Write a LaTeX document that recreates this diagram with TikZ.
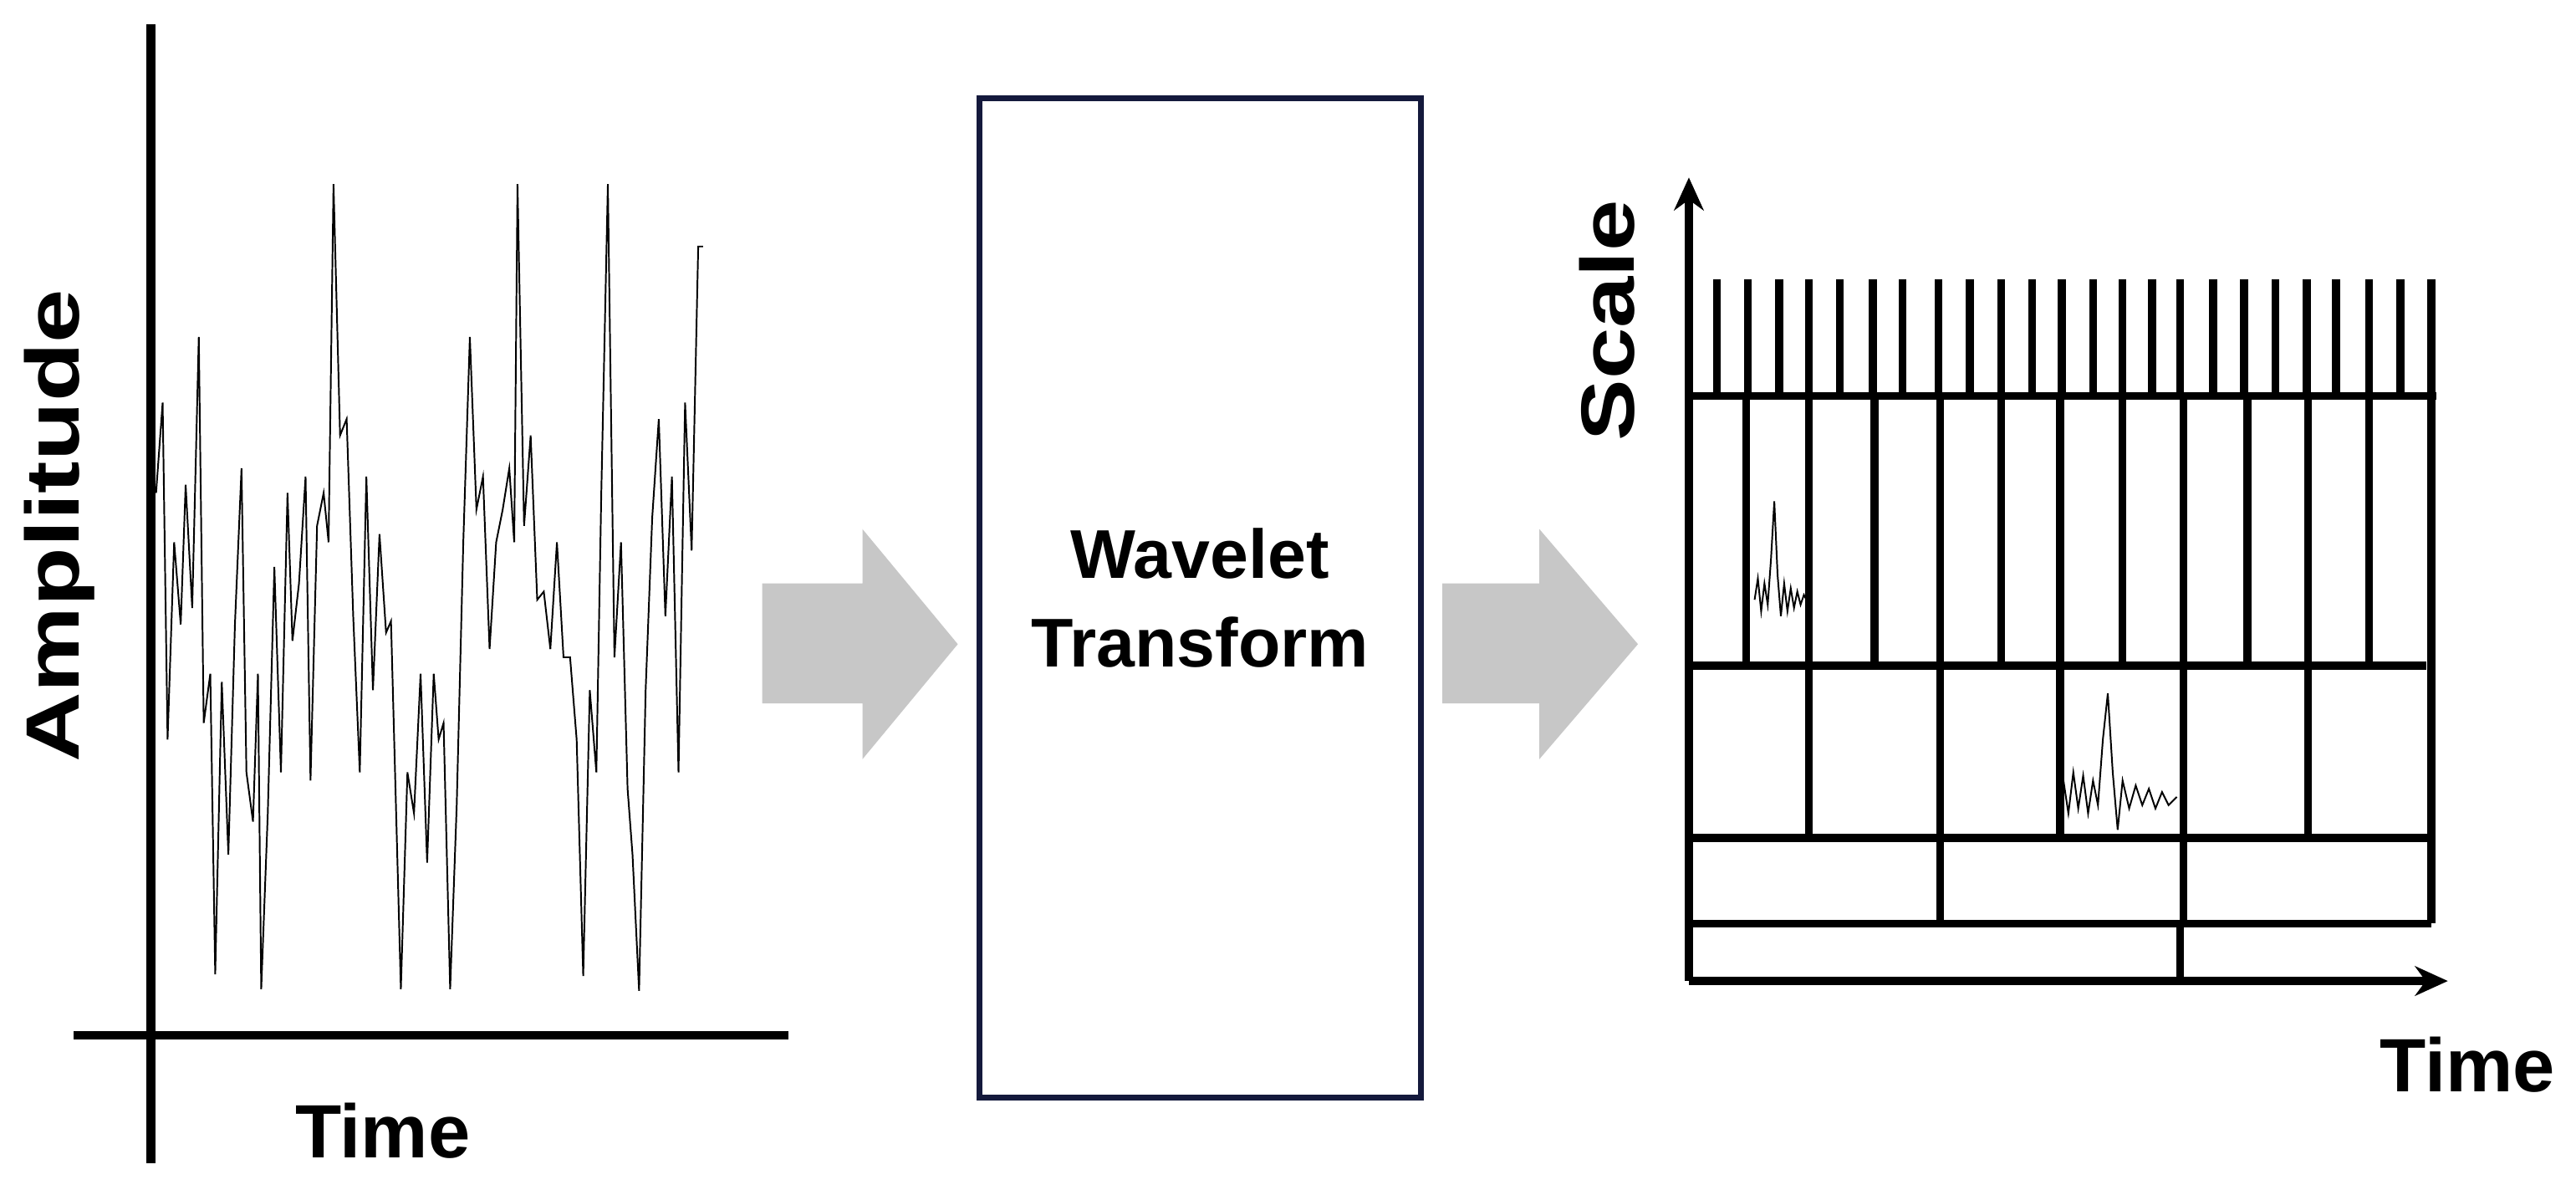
\documentclass[tikz,border=0pt]{standalone}
\usepackage{fontspec}
\setmainfont{Liberation Sans}
\usetikzlibrary{arrows.meta}
\begin{document}
\begin{tikzpicture}[x=1pt,y=-1pt,
  ax/.style={line width=5.5pt},
  grid/.style={line width=4.8pt},
  sig/.style={line width=1pt},
  lbl/.style={font=\fontsize{46}{50}\selectfont\bfseries, inner sep=0pt},
  blockarrow/.style={fill=black!22, draw=none}]
\useasboundingbox (0,0) rectangle (1568,724);
% left plot
\coordinate (lt) at (92,15); \coordinate (lb) at (92,708);
\coordinate (hl) at (45,630); \coordinate (hr) at (480,630);
\draw[ax] (lt) -- (lb);
\draw[ax] (hl) -- (hr);
\node[lbl, rotate=90] (amp) at (36,320) {\scalebox{1.28}[1]{Amplitude}};
\node[lbl] (t1) at (233,688) {Time};
\draw[sig] (95,300) -- (99,245) -- (102,450) -- (106,330) -- (110,380) -- (113,295) -- (117,370) -- (121,205) -- (124,440) -- (128,410) -- (131,593) -- (135,415) -- (139,520) -- (143,380) -- (147,285) -- (150,470) -- (154,500) -- (157,410) -- (159,602) -- (163,495) -- (167,345) -- (171,470) -- (175,300) -- (178,390) -- (182,355) -- (186,290) -- (189,475) -- (193,320) -- (197,300) -- (200,330) -- (203,112) -- (207,265) -- (211,255) -- (215,375) -- (219,470) -- (223,290) -- (227,420) -- (231,325) -- (235,385) -- (238,378) -- (241,490) -- (244,602) -- (248,470) -- (252,495) -- (256,410) -- (260,525) -- (264,410) -- (267,450) -- (270,440) -- (274,602) -- (278,490) -- (282,330) -- (286,205) -- (290,310) -- (294,290) -- (298,395) -- (302,330) -- (306,310) -- (310,285) -- (313,330) -- (315,112) -- (319,320) -- (323,265) -- (327,365) -- (331,360) -- (335,395) -- (339,330) -- (343,400) -- (347,400) -- (351,450) -- (355,594) -- (359,420) -- (363,470) -- (366,300) -- (370,112) -- (374,400) -- (378,330) -- (382,480) -- (385,520) -- (389,603) -- (393,420) -- (397,315) -- (401,255) -- (405,375) -- (409,290) -- (413,470) -- (417,245) -- (421,335) -- (425,150) -- (428,150);
% arrows
\fill[blockarrow] (464,355) -- (525,355) -- (525,322) -- (583,392) -- (525,462) -- (525,428) -- (464,428) -- cycle;
\fill[blockarrow] (878,355) -- (937,355) -- (937,322) -- (997,392) -- (937,462) -- (937,428) -- (878,428) -- cycle;
% box
\node[draw={rgb,255:red,20;green,25;blue,60}, line width=3.5pt, minimum width=269pt, minimum height=608pt, inner sep=0pt] (box) at (730.5,364) {};
\node[font=\fontsize{42}{54}\selectfont\bfseries, align=center] (wt) at (box.center) {Wavelet\\Transform};
% right plot
\coordinate (o) at (1028,597); \coordinate (yt) at (1028,108); \coordinate (xr) at (1490,597);
\draw[grid,-{Stealth[length=20pt,width=18pt]}] (o) -- (yt);
\draw[grid,-{Stealth[length=20pt,width=18pt]}] (o) -- (xr);
\node[lbl, rotate=90] (sc) at (978,195) {\scalebox{1.22}[1]{Scale}};
\node[lbl] (t2) at (1502,648) {Time};
\draw[grid] (1028,241) -- (1483,241);
\draw[grid] (1028,405) -- (1477,405);
\draw[grid] (1028,510) -- (1480,510);
\draw[grid] (1028,562) -- (1480,562);
\draw[grid] (1480,241) -- (1480,562);
\foreach \x in {1045,1064,1083,1101,1120,1140,1158,1180,1199,1218,1237,1255,1274,1292,1310,1327,1347,1366,1385,1404,1422,1442,1461,1480}
  \draw[grid] (\x,170) -- (\x,241);
\foreach \x in {1063,1101,1141,1181,1218,1254,1292,1329,1368,1405,1442}
  \draw[grid] (\x,241) -- (\x,405);
\foreach \x in {1101,1181,1254,1329,1405}
  \draw[grid] (\x,405) -- (\x,510);
\foreach \x in {1181,1329}
  \draw[grid] (\x,510) -- (\x,562);
\draw[grid] (1327,562) -- (1327,597);
% small wavelets
\draw[sig] (1068,365) -- (1070,352) -- (1072,372) -- (1074,355) -- (1076,368) -- (1078,340) -- (1080,305) -- (1082,350) -- (1084,375) -- (1086,355) -- (1088,372) -- (1090,358) -- (1092,370) -- (1094,360) -- (1096,368) -- (1098,362) -- (1100,366);
\draw[sig] (1253,490) -- (1256,475) -- (1259,495) -- (1262,470) -- (1265,492) -- (1268,472) -- (1271,495) -- (1274,475) -- (1277,490) -- (1280,450) -- (1283,422) -- (1286,470) -- (1289,505) -- (1292,475) -- (1296,492) -- (1300,478) -- (1304,490) -- (1308,480) -- (1312,492) -- (1316,482) -- (1320,490) -- (1325,485);
\end{tikzpicture}
\end{document}
